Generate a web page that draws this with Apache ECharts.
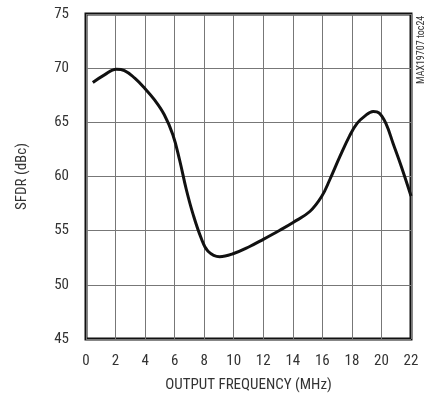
<!DOCTYPE html>
<html><head><meta charset="utf-8">
<script src="https://cdn.jsdelivr.net/npm/echarts@6/dist/echarts.min.js"></script>
<style>html,body{margin:0;padding:0;background:#fff}#c{width:430px;height:399px}</style>
</head><body><div id="c"></div>
<script>
const freqMHz = [0.46,1.25,2.05,2.6,3.3,3.97,4.64,5.3,5.88,6.34,6.79,7.25,7.8,8.26,9.05,9.95,11.08,12.0,13.12,14.02,15.15,15.95,16.5,17.19,17.86,18.35,18.85,19.44,19.85,20.3,20.8,21.35,22.0];
const sfdrDbc = [68.67,69.38,69.9,69.78,69.08,68.15,67.07,65.7,63.85,61.5,58.8,56.5,54.3,53.1,52.6,52.87,53.54,54.2,55.04,55.76,56.77,58.15,59.7,61.85,63.8,64.9,65.55,66.0,65.85,64.9,63.0,60.9,58.2];
const xTicks = [0,2,4,6,8,10,12,14,16,18,20,22];
const yTicks = [45,50,55,60,65,70,75];
const FONT = '"Liberation Sans Narrow","Roboto Condensed","Liberation Sans",Arial,sans-serif';
const chart = echarts.init(document.getElementById('c'), null, {renderer:'canvas'});
chart.setOption({
  animation:false,
  grid:{left:86,right:19,top:14,bottom:60,show:true,borderColor:'#111',borderWidth:3,backgroundColor:'transparent'},
  xAxis:{type:'value',min:xTicks[0],max:xTicks[xTicks.length-1],interval:2,
    name:'OUTPUT FREQUENCY (MHz)',nameLocation:'middle',nameGap:39,
    nameTextStyle:{fontFamily:FONT,fontSize:15,color:'#333'},
    axisLine:{show:false},axisTick:{show:false},
    axisLabel:{fontFamily:FONT,fontSize:15,color:'#333',margin:15},
    splitLine:{show:true,lineStyle:{color:'#777',width:1}}},
  yAxis:{type:'value',min:yTicks[0],max:yTicks[yTicks.length-1],interval:5,
    name:'SFDR (dBc)',nameLocation:'middle',nameGap:56,nameRotate:90,
    nameTextStyle:{fontFamily:FONT,fontSize:15,color:'#333'},
    axisLine:{show:false},axisTick:{show:false},
    axisLabel:{fontFamily:FONT,fontSize:15,color:'#333',margin:17},
    splitLine:{show:true,lineStyle:{color:'#777',width:1}}},
  graphic:[{type:'text',x:416,y:84,rotation:Math.PI/2,
    style:{text:'MAX19707 toc24',fontFamily:FONT,fontSize:10,fill:'#333'}}],
  series:[{type:'line',data:freqMHz.map((f,i)=>[f,sfdrDbc[i]]),smooth:0.4,showSymbol:false,
    lineStyle:{color:'#111',width:3},z:5}]
});
</script></body></html>
